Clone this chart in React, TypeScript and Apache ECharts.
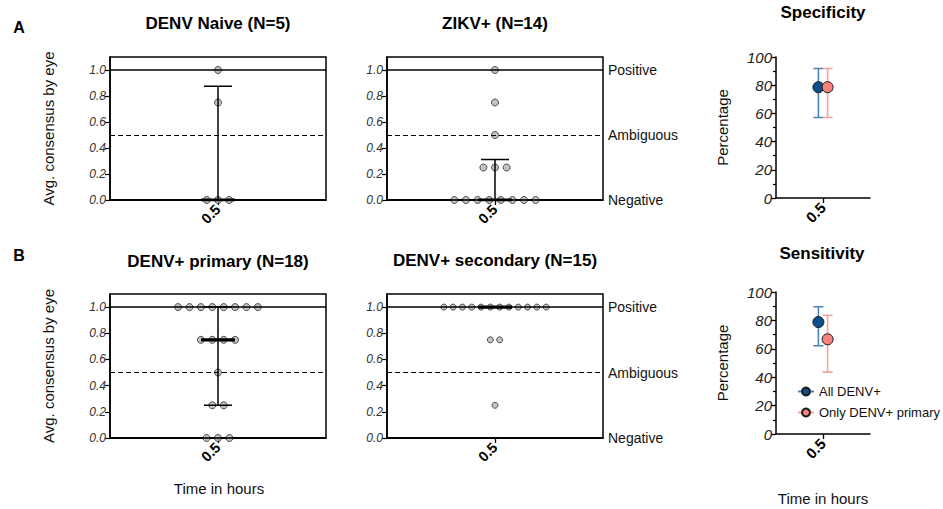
import React, { useEffect, useRef } from 'react';
import * as echarts from 'echarts';

// ---------------- data ----------------
const timeCategories = ['0.5'];
const denvNaive = [1, 0.75, 0, 0, 0];
const zikv = [1, 0.75, 0.5, 0.25, 0.25, 0.25, 0, 0, 0, 0, 0, 0, 0, 0];
const denvPrimary = [1, 1, 1, 1, 1, 1, 1, 1, 0.75, 0.75, 0.75, 0.75, 0.5, 0.25, 0.25, 0, 0, 0];
const denvSecondary = [1, 1, 1, 1, 1, 1, 1, 1, 1, 1, 1, 1, 0.75, 0.75, 0.25];
const consensusTicks = [0, 0.2, 0.4, 0.6, 0.8, 1.0];
const thresholdValues = [1, 0.5, 0];
const thresholdLabels = ['Positive', 'Ambiguous', 'Negative'];
const groupTitles = ['DENV Naive (N=5)', 'ZIKV+ (N=14)', 'DENV+ primary (N=18)', 'DENV+ secondary (N=15)'];
const percentSeries = ['All DENV+', 'Only DENV+ primary'];
const specificityValue = [78.6, 78.6];
const specificityLow = [57.1, 57.1];
const specificityHigh = [91.8, 91.8];
const sensitivityValue = [78.8, 66.7];
const sensitivityLow = [62.2, 43.6];
const sensitivityHigh = [89.6, 83.6];

// ---------------- helpers ----------------
const FONT = '"Liberation Sans", Arial, Helvetica, sans-serif';

function quantile(values: number[], p: number) {
  const s = [...values].sort((a, b) => a - b);
  const n = s.length;
  const rank = p * (n + 1);
  if (rank <= 1) return s[0];
  if (rank >= n) return s[n - 1];
  const lo = Math.floor(rank);
  const f = rank - lo;
  return s[lo - 1] + f * (s[lo] - s[lo - 1]);
}

function swarm(values: number[], spacing: number) {
  const groups = new Map<number, number>();
  values.forEach((v) => groups.set(v, (groups.get(v) || 0) + 1));
  const out: number[][] = [];
  groups.forEach((count, v) => {
    for (let i = 0; i < count; i++) out.push([spacing * (i - (count - 1) / 2), v]);
  });
  return out;
}

export default function App() {
  const ref = useRef<HTMLDivElement>(null);

  useEffect(() => {
    if (!ref.current) return;
    const chart = echarts.init(ref.current, undefined, { renderer: 'svg' });

    const leftGrids = [
      { left: 110, top: 57, width: 216, height: 143 },
      { left: 387, top: 57, width: 216, height: 143 },
      { left: 110, top: 294, width: 216, height: 144 },
      { left: 387, top: 294, width: 216, height: 144 },
    ];
    const rightGrids = [
      { left: 776, top: 57, width: 94, height: 141 },
      { left: 776, top: 292, width: 94, height: 142 },
    ];
    const groups = [denvNaive, zikv, denvPrimary, denvSecondary];
    const spacings = [11.2, 11.6, 11.4, 9.3];
    const sizes = [7, 7, 7, 6];
    const showThresholdLabels = [false, true, false, true];
    const showYName = [true, false, true, false];

    const grid: any[] = [];
    const xAxis: any[] = [];
    const yAxis: any[] = [];
    const series: any[] = [];

    const catAxis = (gi: number, fontSize: number) => ({
      type: 'category',
      gridIndex: gi,
      data: timeCategories,
      boundaryGap: true,
      axisLine: { show: true, onZero: false, lineStyle: { color: '#000', width: 1.5 } },
      axisTick: { show: true, alignWithLabel: true, length: 5, lineStyle: { color: '#000', width: 1.3 } },
      axisLabel: { rotate: 45, fontWeight: 'bold', fontSize, color: '#000', margin: 7, fontFamily: FONT },
      splitLine: { show: false },
    });

    // ---- left (dot plot) panels ----
    leftGrids.forEach((g, i) => {
      const gi = grid.length;
      grid.push({ ...g, show: true, borderColor: '#000', borderWidth: 1.5, backgroundColor: 'transparent' });
      xAxis.push(catAxis(gi, 14.5));
      const xv = xAxis.length;
      xAxis.push({ type: 'value', gridIndex: gi, min: -g.width / 2, max: g.width / 2, show: false });
      yAxis.push({
        type: 'value',
        gridIndex: gi,
        min: 0,
        max: 1.1,
        axisLine: { show: true, onZero: false, lineStyle: { color: '#000', width: 1.5 } },
        axisTick: { show: true, length: 5, customValues: consensusTicks, lineStyle: { color: '#000', width: 1.2 } },
        axisLabel: {
          customValues: consensusTicks,
          formatter: (v: number) => v.toFixed(1),
          fontStyle: 'italic',
          fontSize: 12,
          color: '#333',
          margin: 4,
          fontFamily: FONT,
        },
        splitLine: { show: false },
        name: showYName[i] ? 'Avg. consensus by eye' : '',
        nameLocation: 'middle',
        nameGap: 54,
        nameTextStyle: { fontSize: 15, color: '#111', fontFamily: FONT },
      });
      const yi = yAxis.length - 1;
      const vals = groups[i];
      const q1 = quantile(vals, 0.25);
      const med = quantile(vals, 0.5);
      const q3 = quantile(vals, 0.75);

      series.push({
        type: 'line',
        xAxisIndex: xv,
        yAxisIndex: yi,
        data: [[0, 0.5]],
        showSymbol: false,
        symbol: 'none',
        lineStyle: { opacity: 0 },
        z: 1,
        silent: true,
        markLine: {
          silent: true,
          symbol: 'none',
          animation: false,
          data: thresholdValues.map((v, k) => ({
            yAxis: v,
            lineStyle: {
              color: '#000',
              width: k === 1 ? 1.2 : 1.5,
              type: k === 1 ? [5, 3] : 'solid',
            },
            label: {
              show: showThresholdLabels[i],
              position: 'end',
              formatter: thresholdLabels[k],
              distance: 5,
              fontSize: 14,
              color: '#111',
              fontFamily: FONT,
            },
          })),
        },
      });
      series.push({
        type: 'scatter',
        xAxisIndex: xv,
        yAxisIndex: yi,
        data: swarm(vals, spacings[i]),
        symbol: 'circle',
        symbolSize: sizes[i],
        itemStyle: { color: '#b4b4b4', borderColor: '#2a2a2a', borderWidth: 1 },
        z: 2,
        silent: true,
      });
      const seg = (data: number[][], width: number) => ({
        type: 'line',
        xAxisIndex: xv,
        yAxisIndex: yi,
        data,
        symbol: 'none',
        showSymbol: false,
        lineStyle: { color: '#000', width },
        z: 3,
        silent: true,
      });
      series.push(seg([[0, q1], [0, q3]], 1.5));
      series.push(seg([[-14, q1], [14, q1]], 1.5));
      series.push(seg([[-14, q3], [14, q3]], 1.5));
      series.push(seg([[-17, med], [17, med]], 3.2));
    });

    // ---- right (percentage) panels ----
    const fills = ['#0b4f8c', '#f7827c'];
    const errColors = ['#4a83b8', '#f6a3a0'];
    const offsets = [-4.6, 4.6];
    const pv = [specificityValue, sensitivityValue];
    const pl = [specificityLow, sensitivityLow];
    const ph = [specificityHigh, sensitivityHigh];
    rightGrids.forEach((g, r) => {
      const gi = grid.length;
      grid.push({ ...g, show: false });
      xAxis.push(catAxis(gi, 15));
      const xv = xAxis.length;
      xAxis.push({ type: 'value', gridIndex: gi, min: -g.width / 2, max: g.width / 2, show: false });
      yAxis.push({
        type: 'value',
        gridIndex: gi,
        min: 0,
        max: 100,
        interval: 20,
        axisLine: { show: true, onZero: false, lineStyle: { color: '#000', width: 1.5 } },
        axisTick: { show: true, length: 5, lineStyle: { color: '#000', width: 1.3 } },
        minorTick: { show: true, splitNumber: 2, length: 3, lineStyle: { color: '#000', width: 1.2 } },
        axisLabel: { fontStyle: 'italic', fontSize: 15, color: '#222', margin: 4, fontFamily: FONT },
        splitLine: { show: false },
        name: 'Percentage',
        nameLocation: 'middle',
        nameGap: 46,
        nameTextStyle: { fontSize: 15, color: '#111', fontFamily: FONT },
      });
      const yi = yAxis.length - 1;
      percentSeries.forEach((name, k) => {
        const x = offsets[k];
        const lo = pl[r][k];
        const hi = ph[r][k];
        const seg = (data: number[][]) => ({
          type: 'line',
          xAxisIndex: xv,
          yAxisIndex: yi,
          data,
          symbol: 'none',
          showSymbol: false,
          lineStyle: { color: errColors[k], width: 1.6 },
          z: 3,
          silent: true,
        });
        series.push(seg([[x, lo], [x, hi]]));
        series.push(seg([[x - 5, lo], [x + 5, lo]]));
        series.push(seg([[x - 5, hi], [x + 5, hi]]));
        series.push({
          type: 'line',
          name,
          xAxisIndex: xv,
          yAxisIndex: yi,
          data: [[x, pv[r][k]]],
          symbol: 'circle',
          symbolSize: 11,
          showSymbol: true,
          itemStyle: { color: fills[k], borderColor: '#1a1a1a', borderWidth: 1 },
          lineStyle: { color: errColors[k], width: 1.6 },
          z: 4,
          silent: true,
        });
      });
    });

    const titleCenters = [
      [218, 23],
      [495, 23],
      [218, 261],
      [495, 260],
    ];
    const graphic: any[] = [];
    groupTitles.forEach((t, i) => {
      graphic.push({
        type: 'text',
        x: titleCenters[i][0],
        y: titleCenters[i][1],
        style: { text: t, font: `bold 17px ${FONT}`, fill: '#000', textAlign: 'center', textVerticalAlign: 'middle' },
      });
    });
    graphic.push({
      type: 'text', x: 823, y: 12,
      style: { text: 'Specificity', font: `bold 17px ${FONT}`, fill: '#000', textAlign: 'center', textVerticalAlign: 'middle' },
    });
    graphic.push({
      type: 'text', x: 822, y: 253,
      style: { text: 'Sensitivity', font: `bold 17px ${FONT}`, fill: '#000', textAlign: 'center', textVerticalAlign: 'middle' },
    });
    graphic.push({
      type: 'text', x: 19, y: 27,
      style: { text: 'A', font: `bold 16px ${FONT}`, fill: '#000', textAlign: 'center', textVerticalAlign: 'middle' },
    });
    graphic.push({
      type: 'text', x: 19, y: 255,
      style: { text: 'B', font: `bold 16px ${FONT}`, fill: '#000', textAlign: 'center', textVerticalAlign: 'middle' },
    });
    graphic.push({
      type: 'text', x: 219, y: 488,
      style: { text: 'Time in hours', font: `15px ${FONT}`, fill: '#111', textAlign: 'center', textVerticalAlign: 'middle' },
    });
    graphic.push({
      type: 'text', x: 823, y: 498,
      style: { text: 'Time in hours', font: `15px ${FONT}`, fill: '#111', textAlign: 'center', textVerticalAlign: 'middle' },
    });

    chart.setOption({
      animation: false,
      backgroundColor: '#fff',
      textStyle: { fontFamily: FONT },
      grid,
      xAxis,
      yAxis,
      series,
      graphic,
      legend: {
        data: percentSeries,
        orient: 'vertical',
        left: 792,
        top: 380,
        itemWidth: 16,
        itemHeight: 10,
        itemGap: 8,
        selectedMode: false,
        textStyle: { fontSize: 13, color: '#111', fontFamily: FONT },
      },
    });

    return () => chart.dispose();
  }, []);

  return (
    <div
      ref={ref}
      style={{ position: 'fixed', left: 0, top: 0, width: 943, height: 509, background: '#fff' }}
    />
  );
}
